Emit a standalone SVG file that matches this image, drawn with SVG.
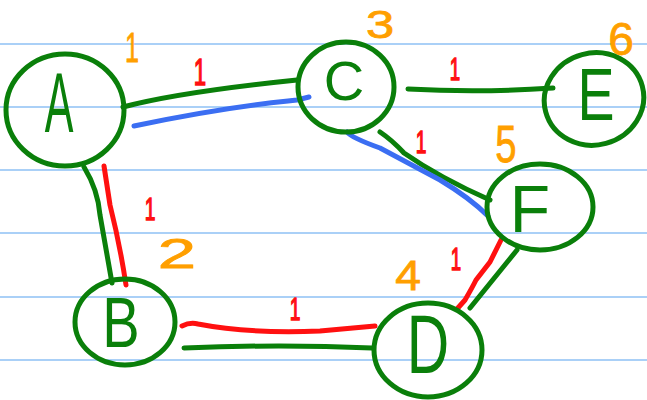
<svg xmlns="http://www.w3.org/2000/svg" width="647" height="400" viewBox="0 0 647 400">
<style>
.rule{stroke:#aad0f7;stroke-width:2;fill:none}
.g{stroke:#0a7f0a;stroke-width:5;fill:none;stroke-linecap:round;stroke-linejoin:round}
.r{stroke:#ff1010;stroke-width:5;fill:none;stroke-linecap:round;stroke-linejoin:round}
.b{stroke:#3b6ef2;stroke-width:5;fill:none;stroke-linecap:round;stroke-linejoin:round}
.node{stroke:#0a7f0a;stroke-width:5;fill:none}
.lt{font-family:"Liberation Sans",Arial,sans-serif;fill:#0a7f0a;text-anchor:middle}
.w{font-family:"Liberation Sans",Arial,sans-serif;fill:#ff1010;stroke:#ff1010;stroke-width:1.5;text-anchor:middle}
.o{font-family:"Liberation Sans",Arial,sans-serif;fill:#ff9f00;stroke:#ff9f00;stroke-width:0.8;text-anchor:middle}
</style>
<rect width="647" height="400" fill="#ffffff"/>
<g id="paper">
<line class="rule" x1="0" y1="44" x2="647" y2="44"/>
<line class="rule" x1="0" y1="107" x2="647" y2="107"/>
<line class="rule" x1="0" y1="170" x2="647" y2="170"/>
<line class="rule" x1="0" y1="233" x2="647" y2="233"/>
<line class="rule" x1="0" y1="297" x2="647" y2="297"/>
<line class="rule" x1="0" y1="360" x2="647" y2="360"/>
</g>
<g id="connectors">
<path class="g" d="M123,107 Q180,92 297,80"/>
<path class="b" d="M134,126 Q220,108 288,101 L297,100 L309,97"/>
<path class="g" d="M408,89 Q480,93 553,88"/>
<path class="g" d="M380,132 Q392,140 404,153 Q440,178 490,200"/>
<path class="b" d="M347,132 Q352,138 380,148 L440,180 Q470,198 488,216"/>
<path class="g" d="M84,167 Q98,190 100,215 L112,283"/>
<path class="r" d="M104,166 L110,205 Q120,245 126,285"/>
<path class="r" d="M182,326 Q190,322 198,324 Q250,334 320,331 L375,326"/>
<path class="g" d="M184,348 Q280,344 372,348"/>
<path class="r" d="M457,309 L465,300 Q472,288 476,280 L490,262 L501,240"/>
<path class="g" d="M470,308 L517,250"/>
</g>
<g id="node-A">
<ellipse class="node" cx="65" cy="110" rx="59" ry="56"/>
<text class="lt" font-size="86" transform="translate(59,132) scale(0.5,1)">A</text>
</g>
<g id="node-C">
<ellipse class="node" cx="346" cy="87" rx="48" ry="45"/>
<text class="lt" font-size="56" transform="translate(344,100)">C</text>
</g>
<g id="node-E">
<ellipse class="node" cx="594" cy="99" rx="50" ry="46" transform="rotate(-15 594 99)"/>
<text class="lt" font-size="74" transform="translate(596,120) scale(0.75,1)">E</text>
</g>
<g id="node-F">
<ellipse class="node" cx="540" cy="207" rx="53" ry="43"/>
<text class="lt" font-size="66" transform="translate(530,232)">F</text>
</g>
<g id="node-B">
<ellipse class="node" cx="125" cy="322" rx="50" ry="43"/>
<text class="lt" font-size="70" transform="translate(121,347) scale(0.8,1)">B</text>
</g>
<g id="node-D">
<ellipse class="node" cx="428" cy="350" rx="54" ry="47"/>
<text class="lt" font-size="84" transform="translate(428,373) scale(0.7,1)">D</text>
</g>
<g id="weights">
<text class="w" font-size="37" transform="translate(200,85) scale(0.6,1)">1</text>
<text class="w" font-size="31" transform="translate(455,80) scale(0.6,1)">1</text>
<text class="w" font-size="32" transform="translate(421,153) scale(0.6,1)">1</text>
<text class="w" font-size="32" transform="translate(150,220) scale(0.6,1)">1</text>
<text class="w" font-size="32" transform="translate(295,320) scale(0.6,1)">1</text>
<text class="w" font-size="31" transform="translate(456,270) scale(0.6,1)">1</text>
</g>
<g id="orders">
<text class="o" font-size="42" transform="translate(132,62) scale(0.6,1)">1</text>
<text class="o" font-size="39" transform="translate(380,38) scale(1.3,1)">3</text>
<text class="o" font-size="51" transform="translate(506,162) scale(0.75,1)">5</text>
<text class="o" font-size="46" transform="translate(621,55)">6</text>
<text class="o" font-size="43" transform="translate(177,268) scale(1.6,1)">2</text>
<text class="o" font-size="42" transform="translate(408,290) scale(1.1,1)">4</text>
</g>
</svg>
